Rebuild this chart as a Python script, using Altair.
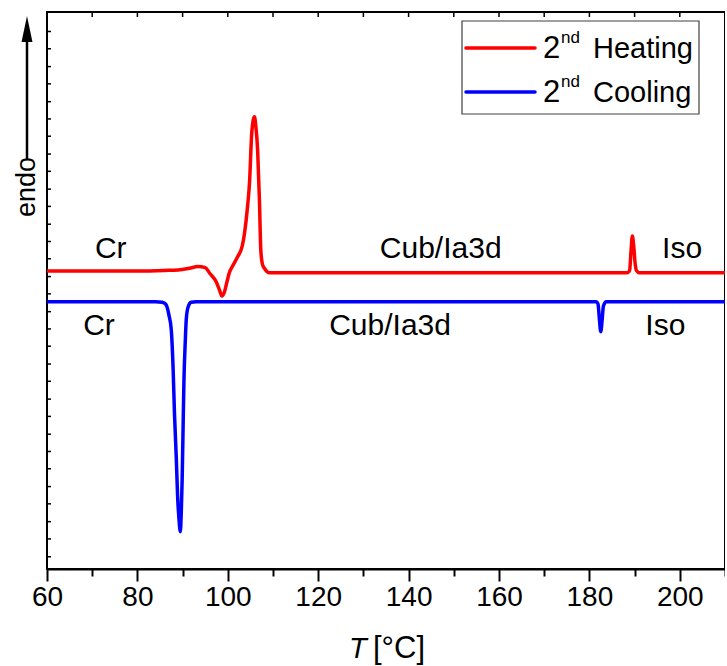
import altair as alt
import pandas as pd

# ---- data ----
heat_T = [60, 80, 86, 89, 91.5, 93.4, 95, 96.0, 97.4, 98.2, 98.7, 99.2, 99.8, 100.3, 101.2,
          102.2, 103.2, 103.7, 104.3, 104.8, 105.3, 105.6, 105.9, 106.2, 106.6, 107.0, 107.3,
          107.7, 108.1, 109.2, 120, 188.5, 188.9, 189.2, 189.5, 189.8, 190.1, 190.4, 191, 210]
heat_v = [53.5, 53.5, 53.6, 53.7, 54.0, 54.3, 54.1, 53.1, 51.6, 50.0, 49.0, 49.6, 51.5, 53.1, 54.6,
          56.1, 58.0, 60.3, 64.5, 69.3, 78.3, 80.5, 81.2, 79.5, 75.2, 66.2, 57.3,
          54.6, 54.0, 53.2, 53.2, 53.2, 53.6, 57.0, 59.8, 58.0, 55.0, 53.6, 53.2, 53.2]

cool_T = [60, 84, 85.5, 86.3, 87.0, 87.5, 87.9, 88.2, 88.6, 88.9, 89.2, 89.5, 89.7, 89.9, 90.1,
          90.3, 90.6, 90.8, 91.2, 91.9, 93, 181.5, 181.9, 182.2, 182.5, 182.8, 183.1, 183.7, 210]
cool_v = [48.0, 48.0, 47.9, 47.5, 45.5, 42.9, 36.0, 28.0, 20.0, 13.0, 9.0, 6.7, 10.0, 16.0, 25.0,
          33.9, 41.0, 44.7, 47.0, 47.9, 48.0, 48.0, 47.6, 45.0, 42.6, 44.5, 47.2, 48.0, 48.0]

label_text = ["Cr", "Cub/Ia3d", "Iso", "Cr", "Cub/Ia3d", "Iso"]
label_T = [74.1, 147.1, 200.5, 71.5, 135.9, 196.8]
label_v = [57.5, 57.5, 57.5, 43.6, 43.6, 43.6]

series_names = ["2nd Heating", "2nd Cooling"]
series_colors = ["#ff0000", "#0000ff"]
legend_words = ["Heating", "Cooling"]

x_major = [60, 80, 100, 120, 140, 160, 180, 200]
x_minor = [70, 90, 110, 130, 150, 170, 190, 210]
x_top = [70, 80, 90, 100, 110, 120, 130, 140, 150, 160, 170, 180, 190, 200]
y_ticks = [96.5, 93.4, 90.2, 87.1, 83.9, 80.8, 77.7, 74.5, 71.4, 68.2, 65.1, 61.9, 58.8, 55.7,
           52.5, 49.4, 46.2, 43.1, 40.0, 36.8, 33.7, 30.5, 27.4, 24.2, 21.1, 18.0, 14.8, 11.7,
           8.5, 5.4, 2.2]

FONT = "Liberation Sans"
W, H = 678, 557

curves = pd.DataFrame({
    "T": heat_T + cool_T,
    "v": heat_v + cool_v,
    "series": [series_names[0]] * len(heat_T) + [series_names[1]] * len(cool_T),
})
labels = pd.DataFrame({"T": label_T, "v": label_v, "text": label_text})
top_ticks = pd.DataFrame({"T": x_top})
left_ticks = pd.DataFrame({"v": y_ticks})
one = pd.DataFrame({"k": [0]})

xscale = alt.Scale(domain=[60, 210], nice=False, zero=False)
yscale = alt.Scale(domain=[0, 100], nice=False, zero=False)
cscale = alt.Scale(domain=series_names, range=series_colors)

lines = alt.Chart(curves).mark_line(strokeWidth=3.5, interpolate="monotone").encode(
    x=alt.X("T:Q", scale=xscale,
            axis=alt.Axis(values=x_major, format="d", tickSize=12, tickWidth=2, domainWidth=2,
                          domainColor="black", tickColor="black", labelFont=FONT,
                          labelFontSize=28, labelColor="black", labelPadding=2, grid=False,
                          title=None, orient="bottom", labelFlush=False)),
    y=alt.Y("v:Q", scale=yscale, axis=None),
    color=alt.Color("series:N", scale=cscale, legend=None),
    detail="series:N",
)

minor = alt.Chart(curves).mark_point(opacity=0).encode(
    x=alt.X("T:Q", scale=xscale,
            axis=alt.Axis(values=x_minor, labels=False, domain=False,
                          tickSize=7, tickWidth=2, tickColor="black", grid=False, title=None,
                          orient="bottom")),
    y=alt.Y("v:Q", scale=yscale, axis=None),
)

# inward ticks on the top and left frame edges
top_tick_marks = alt.Chart(top_ticks).mark_rule(color="black", strokeWidth=1.5).encode(
    x=alt.X("T:Q", scale=xscale, axis=None), y=alt.value(0), y2=alt.value(5))
left_tick_marks = alt.Chart(left_ticks).mark_rule(color="black", strokeWidth=1.5).encode(
    y=alt.Y("v:Q", scale=yscale, axis=None), x=alt.value(0), x2=alt.value(4))

phase_labels = alt.Chart(labels).mark_text(font=FONT, fontSize=30, color="black",
                                           baseline="middle", align="center").encode(
    x=alt.X("T:Q", scale=xscale, axis=None),
    y=alt.Y("v:Q", scale=yscale, axis=None),
    text="text:N")

# y-axis "endo" arrow
arrow_line = alt.Chart(one).mark_rule(color="black", strokeWidth=2.5).encode(
    x=alt.value(-20), y=alt.value(24), y2=alt.value(148))
arrow_head = alt.Chart(one).mark_point(shape="M0,-1L0.42,1L-0.42,1Z", filled=True, opacity=1,
                                       color="black", size=676).encode(
    x=alt.value(-20), y=alt.value(17))
endo = alt.Chart(one).mark_text(text="endo", font=FONT, fontSize=27, angle=270,
                                align="center", baseline="middle", color="black").encode(
    x=alt.value(-20), y=alt.value(175))

# x-axis title "T [°C]"
t_ital = alt.Chart(one).mark_text(text="T", font=FONT, fontSize=29, fontStyle="italic",
                                  align="left", baseline="alphabetic", color="black").encode(
    x=alt.value(302), y=alt.value(646))
t_unit = alt.Chart(one).mark_text(text="[°C]", font=FONT, fontSize=31, align="left",
                                  baseline="alphabetic", color="black").encode(
    x=alt.value(326), y=alt.value(646))

# custom legend with superscripts (positions are pixel offsets in the plot area)
leg_layers = [alt.Chart(one).mark_rect(fill="white", stroke="#404040", strokeWidth=1.2).encode(
    x=alt.value(415), x2=alt.value(652), y=alt.value(9), y2=alt.value(102))]
for i, (word, col) in enumerate(zip(legend_words, series_colors)):
    dy = 44 * i
    leg_layers.append(alt.Chart(one).mark_rule(strokeWidth=3.5, strokeCap="round",
                                               color=col).encode(
        x=alt.value(419), x2=alt.value(488), y=alt.value(36 + dy)))
    leg_layers.append(alt.Chart(one).mark_text(text="2", font=FONT, fontSize=31, align="left",
                                               baseline="alphabetic", color="black").encode(
        x=alt.value(496), y=alt.value(46 + dy)))
    leg_layers.append(alt.Chart(one).mark_text(text="nd", font=FONT, fontSize=17, align="left",
                                               baseline="alphabetic", color="black").encode(
        x=alt.value(514), y=alt.value(31 + dy)))
    leg_layers.append(alt.Chart(one).mark_text(text=word, font=FONT, fontSize=29, align="left",
                                               baseline="alphabetic", color="black").encode(
        x=alt.value(546), y=alt.value(46 + dy)))

chart = alt.layer(
    lines, minor, top_tick_marks, left_tick_marks, phase_labels, arrow_line, arrow_head, endo,
    t_ital, t_unit, *leg_layers
).resolve_axis(x="independent").properties(
    width=W, height=H,
    autosize=alt.AutoSizeParams(type="none"),
    padding={"left": 47, "top": 12, "right": 0, "bottom": 97},
    background="white",
).configure_view(stroke="black", strokeWidth=2)

chart.save("out.html", embed_options={"renderer": "svg", "actions": False})
